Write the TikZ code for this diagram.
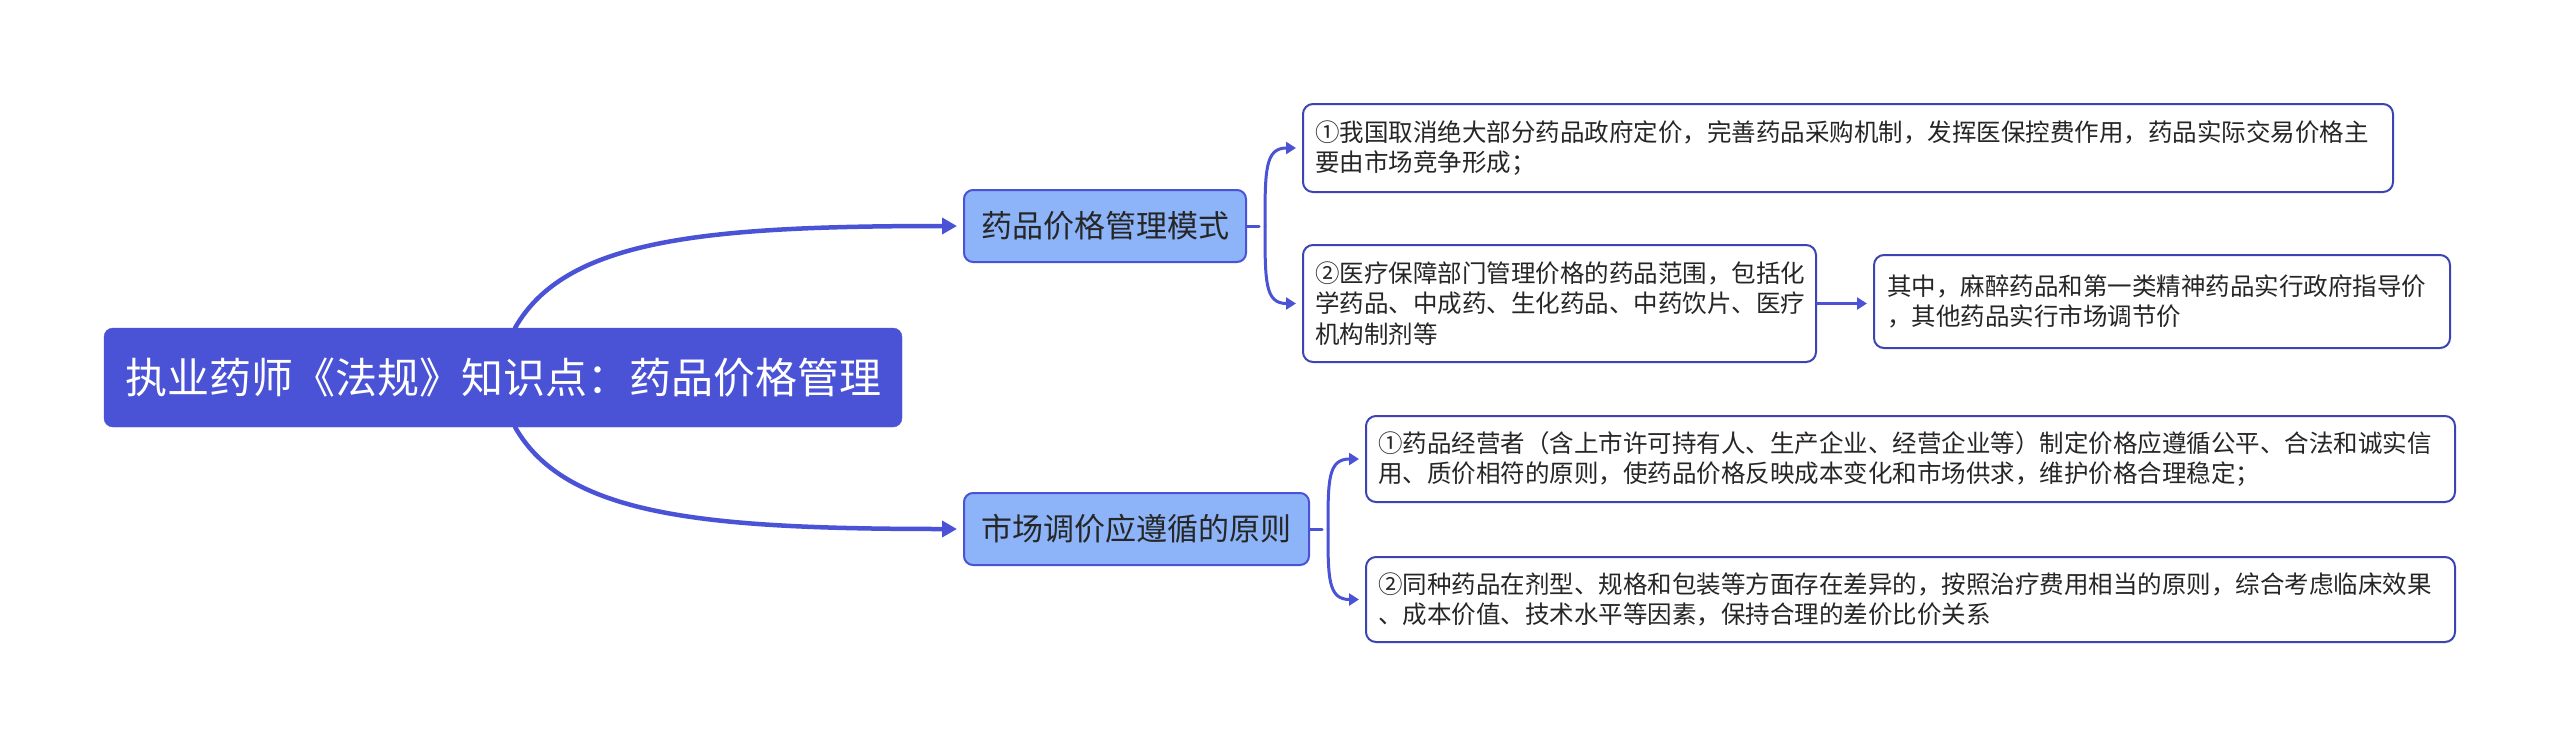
\documentclass[tikz,border=0pt]{standalone}
\usepackage{fontspec}
\setmainfont{Noto Sans CJK SC}
\usetikzlibrary{arrows.meta}
\definecolor{rootblue}{HTML}{4A52D6}
\definecolor{topicblue}{HTML}{8DB4F8}
\definecolor{leafline}{HTML}{3C44B4}
\tikzset{
  rootbox/.style={fill=rootblue,draw=rootblue,rounded corners=9pt,text=white,
    font=\fontsize{42}{48}\selectfont,minimum height=99pt},
  topicbox/.style={fill=topicblue,draw=rootblue,line width=2pt,rounded corners=9pt,
    text=black!85,font=\fontsize{31}{36}\selectfont,minimum height=72pt,anchor=west},
  leafbox/.style={fill=white,draw=leafline,line width=2pt,rounded corners=10pt,
    text=black!85,font=\fontsize{24.5}{30.5}\selectfont,align=left,anchor=west,inner xsep=12pt},
  bigarrow/.style={draw=rootblue,line width=4.5pt,-{Triangle[length=15pt,width=16pt]},shorten >=6pt},
  smallarrow/.style={draw=rootblue,line width=3pt,-{Triangle[length=10pt,width=12pt]},shorten >=6pt}
}
\begin{document}
\begin{tikzpicture}[x=1pt,y=-1pt,line cap=round]
  \useasboundingbox (0,0) rectangle (2560,748);
  \node[rootbox,minimum width=798pt] (root) at (503,377.5) {执业药师《法规》知识点：药品价格管理};
  \node[topicbox,minimum width=282pt] (mode) at (963,226) {药品价格管理模式};
  \node[topicbox,minimum width=345pt] (rule) at (963,529) {市场调价应遵循的原则};
  \node[leafbox,text width=1066pt,minimum height=88pt] (modeA) at (1302,148)
    {①我国取消绝大部分药品政府定价，完善药品采购机制，发挥医保控费作用，药品实际交易价格主\\要由市场竞争形成；};
  \node[leafbox,text width=489pt,minimum height=117pt] (modeB) at (1302,303.5)
    {②医疗保障部门管理价格的药品范围，包括化\\学药品、中成药、生化药品、中药饮片、医疗\\机构制剂等};
  \node[leafbox,text width=550pt,inner xsep=13pt,minimum height=93pt] (modeC) at (1873,301.5)
    {其中，麻醉药品和第一类精神药品实行政府指导价\\，其他药品实行市场调节价};
  \node[leafbox,text width=1065pt,minimum height=86pt] (ruleA) at (1365,459)
    {①药品经营者（含上市许可持有人、生产企业、经营企业等）制定价格应遵循公平、合法和诚实信\\用、质价相符的原则，使药品价格反映成本变化和市场供求，维护价格合理稳定；};
  \node[leafbox,text width=1065pt,minimum height=85pt] (ruleB) at (1365,599.5)
    {②同种药品在剂型、规格和包装等方面存在差异的，按照治疗费用相当的原则，综合考虑临床效果\\、成本价值、技术水平等因素，保持合理的差价比价关系};
  % 主题到分支的曲线
  \coordinate (rootup) at (515,328);
  \coordinate (rootdn) at (515,427);
  \draw[bigarrow] (rootup) .. controls (565,240) and (700,226) .. (mode.west);
  \draw[bigarrow] (rootdn) .. controls (565,515) and (700,529) .. (rule.west);
  \coordinate (modefork) at (1265,226);
  \coordinate (rulefork) at (1328,529);
  \draw[smallarrow,-] (mode.east) -- (modefork);
  \draw[smallarrow] (modefork) .. controls (1265,170) and (1265,148) .. (modeA.west);
  \draw[smallarrow] (modefork) .. controls (1265,282) and (1265,303.5) .. (modeB.west);
  \draw[smallarrow] (modeB.east) -- (modeB.east -| modeC.west);
  \draw[smallarrow,-] (rule.east) -- (rulefork);
  \draw[smallarrow] (rulefork) .. controls (1328,480) and (1328,459) .. (ruleA.west);
  \draw[smallarrow] (rulefork) .. controls (1328,578) and (1328,599.5) .. (ruleB.west);
\end{tikzpicture}
\end{document}
